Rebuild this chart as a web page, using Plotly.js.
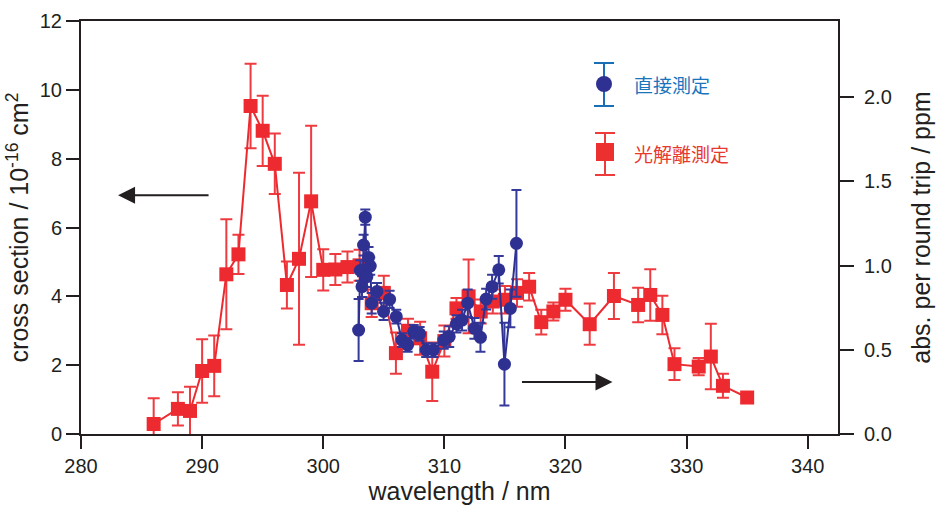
<!DOCTYPE html>
<html><head><meta charset="utf-8">
<script src="https://cdn.plot.ly/plotly-3.0.1.min.js"></script>
<style>html,body{margin:0;padding:0;background:#fff;}#chart{width:937px;height:511px;}</style>
</head><body><div id="chart"></div>
<script>
// 光解離測定 (photodissociation measurement)
const redX = [286, 288, 289, 290, 291, 292, 293, 294, 295, 296, 297, 298, 299, 300, 301, 302, 303, 304, 305, 306, 307, 308, 309, 310, 311, 312, 313, 314, 315, 316, 317, 318, 319, 320, 322, 324, 326, 327, 328, 329, 331, 332, 333, 335];
const redY = [0.29, 0.73, 0.67, 1.83, 1.98, 4.64, 5.22, 9.53, 8.81, 7.85, 4.33, 5.09, 6.76, 4.77, 4.78, 4.85, 4.9, 3.8, 4.1, 2.35, 3.0, 2.78, 1.81, 2.7, 3.65, 4.0, 3.56, 3.85, 3.9, 4.1, 4.28, 3.25, 3.56, 3.9, 3.19, 4.01, 3.75, 4.04, 3.46, 2.03, 1.96, 2.25, 1.4, 1.06];
const redErr = [0.75, 0.48, 0.7, 0.92, 0.88, 1.6, 0.57, 1.23, 1.02, 0.88, 0.68, 2.5, 2.2, 0.6, 0.45, 0.45, 0.45, 0.4, 0.5, 0.6, 0.35, 0.48, 0.85, 0.45, 0.3, 1.07, 0.35, 0.35, 0.4, 0.4, 0.4, 0.36, 0.26, 0.32, 0.6, 0.67, 0.5, 0.75, 0.56, 0.46, 0.25, 0.95, 0.35, 0.1];
// 直接測定 (direct measurement)
const blueX = [302.92, 303.06, 303.2, 303.33, 303.47, 303.6, 303.74, 303.88, 304.0, 304.44, 304.98, 305.48, 306.03, 306.5, 306.97, 307.47, 307.96, 308.5, 309.1, 309.95, 310.4, 311.0, 311.46, 311.93, 312.48, 312.98, 313.45, 313.94, 314.49, 314.96, 315.45, 315.95];
const blueY = [3.02, 4.75, 4.28, 5.49, 6.3, 4.57, 5.13, 4.88, 3.8, 4.14, 3.56, 3.91, 3.41, 2.73, 2.59, 2.97, 2.91, 2.44, 2.44, 2.73, 2.83, 3.2, 3.31, 3.8, 3.07, 2.81, 3.92, 4.28, 4.77, 2.03, 3.65, 5.54];
const blueErr = [0.9, 0.3, 0.3, 0.3, 0.22, 0.3, 0.3, 0.25, 0.3, 0.25, 0.25, 0.25, 0.2, 0.2, 0.2, 0.2, 0.2, 0.2, 0.2, 0.25, 0.3, 0.25, 0.3, 0.4, 0.3, 0.42, 0.3, 0.35, 0.4, 1.2, 0.55, 1.55];
const xTicks = [280, 290, 300, 310, 320, 330, 340];
const yTicks = [0, 2, 4, 6, 8, 10, 12];
const y2Ticks = [0.0, 0.5, 1.0, 1.5, 2.0];
const legendNames = ['直接測定', '光解離測定'];

const RED = '#ec2a30', REDERR = '#ee3b40', BLUE = '#2e3192', BLUEERR = '#34399a';
const FONT = '"Liberation Sans", Arial, sans-serif';
const CJK = '"Noto Sans CJK JP", sans-serif';
const INK = '#231f20';

const traces = [
  {x: redX, y: redY, type: 'scatter', mode: 'lines+markers', name: legendNames[1], showlegend: false,
   line: {color: RED, width: 2}, marker: {color: RED, size: 14, symbol: 'square'},
   error_y: {type: 'data', array: redErr, visible: true, color: REDERR, thickness: 2, width: 6}},
  {x: blueX, y: blueY, type: 'scatter', mode: 'lines+markers', name: legendNames[0], showlegend: false,
   line: {color: BLUE, width: 2}, marker: {color: BLUE, size: 13, symbol: 'circle'},
   error_y: {type: 'data', array: blueErr, visible: true, color: BLUEERR, thickness: 2, width: 5}},
  {x: [null], y: [null], yaxis: 'y2', showlegend: false, hoverinfo: 'skip', type: 'scatter'}
];

// legend key drawn in paper space (pixel -> paper helpers)
const L = 81, W = 757, B = 434, H = 413;
const px = v => (v - L) / W, py = v => (B - v) / H;
function ibeam(cx, top, bot, half, color) {
  const ln = {color: color, width: 2};
  return [
    {type: 'line', xref: 'paper', yref: 'paper', x0: px(cx), x1: px(cx), y0: py(top), y1: py(bot), line: ln},
    {type: 'line', xref: 'paper', yref: 'paper', x0: px(cx - half), x1: px(cx + half), y0: py(top), y1: py(top), line: ln},
    {type: 'line', xref: 'paper', yref: 'paper', x0: px(cx - half), x1: px(cx + half), y0: py(bot), y1: py(bot), line: ln}
  ];
}
const shapes = [].concat(
  ibeam(604, 63, 106, 10, '#1a6eb5'),
  [{type: 'circle', xref: 'paper', yref: 'paper', x0: px(596), x1: px(612), y0: py(92), y1: py(76), fillcolor: BLUE, line: {width: 0}}],
  ibeam(605, 133, 175, 10, '#ee3b3b'),
  [{type: 'rect', xref: 'paper', yref: 'paper', x0: px(596), x1: px(614), y0: py(161), y1: py(143), fillcolor: '#ec3030', line: {width: 0}}]
);

const layout = {
  width: 937, height: 511,
  margin: {l: 81, r: 99, t: 21, b: 77},
  paper_bgcolor: '#fff', plot_bgcolor: '#fff',
  font: {family: FONT, size: 20, color: INK},
  showlegend: false,
  xaxis: {range: [280, 342.5], tickvals: xTicks, ticktext: xTicks.map(String), ticks: 'outside', ticklen: 13, tickwidth: 2,
          tickcolor: INK, showline: true, linecolor: INK, linewidth: 2, mirror: true, showgrid: false, zeroline: false,
          tickfont: {size: 20},
          title: {text: 'wavelength / nm', font: {size: 25}, standoff: 6}},
  yaxis: {range: [0, 12], tickvals: yTicks, ticktext: yTicks.map(String), ticks: 'outside', ticklen: 13, tickwidth: 2,
          tickcolor: INK, showline: true, linecolor: INK, linewidth: 2, showgrid: false, zeroline: false,
          tickfont: {size: 20},
          title: {text: 'cross section / 10<sup>-16</sup> cm<sup>2</sup>', font: {size: 25}, standoff: 4}},
  yaxis2: {overlaying: 'y', side: 'right', range: [0, 2.451], tickvals: y2Ticks, ticktext: y2Ticks.map(v => v.toFixed(1)),
           ticks: 'outside', ticklen: 14, tickwidth: 2, tickcolor: INK, showline: true, linecolor: INK, linewidth: 2,
           showgrid: false, zeroline: false, tickfont: {size: 20}, ticklabelstandoff: 6,
           title: {text: 'abs. per round trip / ppm', font: {size: 25}, standoff: 22}},
  shapes: shapes,
  annotations: [
    {x: 283.06, y: 6.94, xref: 'x', yref: 'y', ax: 92, ay: 0, text: '', showarrow: true, arrowhead: 2, arrowsize: 1.7, arrowwidth: 2, arrowcolor: INK},
    {x: 323.88, y: 1.51, xref: 'x', yref: 'y', ax: -92, ay: 0, text: '', showarrow: true, arrowhead: 2, arrowsize: 1.7, arrowwidth: 2, arrowcolor: INK},
    {x: px(632), y: py(85), xref: 'paper', yref: 'paper', xanchor: 'left', yanchor: 'middle', showarrow: false,
     text: legendNames[0], font: {family: CJK, size: 19, color: '#1b75bc'}},
    {x: px(632), y: py(153), xref: 'paper', yref: 'paper', xanchor: 'left', yanchor: 'middle', showarrow: false,
     text: legendNames[1], font: {family: CJK, size: 19, color: '#e8392f'}}
  ]
};
Plotly.newPlot('chart', traces, layout, {displayModeBar: false, staticPlot: true});
</script></body></html>
